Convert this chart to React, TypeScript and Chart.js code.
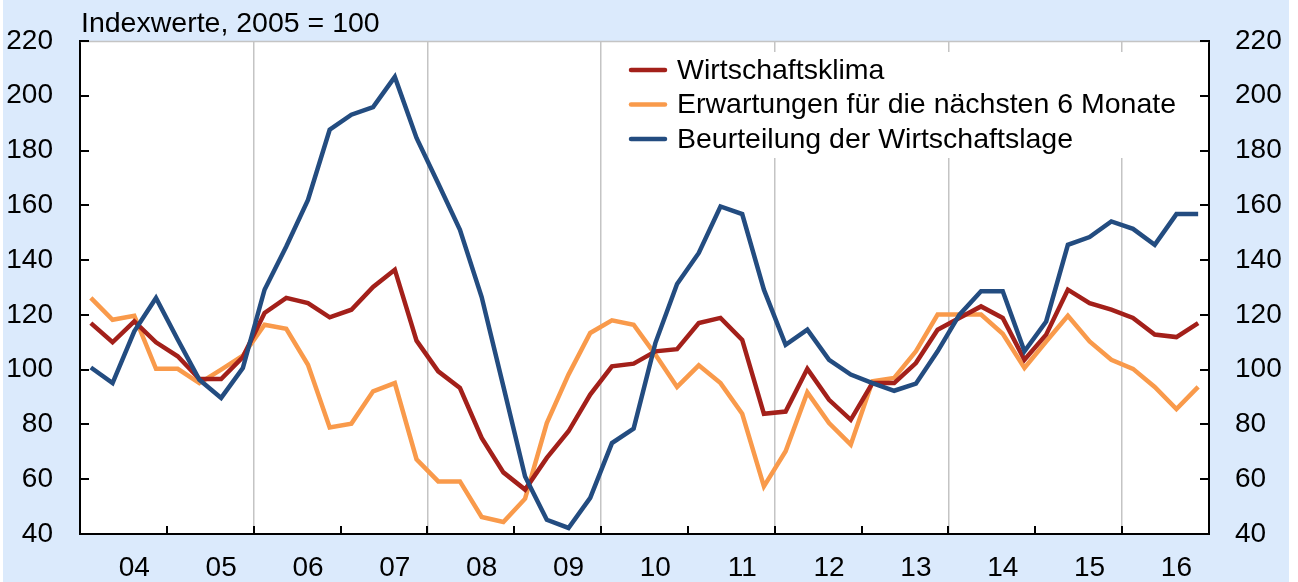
import React, { useEffect, useRef } from 'react';
import { Chart, registerables } from 'chart.js';

Chart.register(...registerables);

const yearLabels = ['04', '05', '06', '07', '08', '09', '10', '11', '12', '13', '14', '15', '16'];
const quarterNames = ['Q1', 'Q2', 'Q3', 'Q4'];
const quarters = yearLabels.flatMap((y) => quarterNames.map((q) => `20${y} ${q}`));

const titleText = 'Indexwerte, 2005 = 100';
const yTicks = { min: 40, max: 220, step: 20 };

const wirtschaftsklima = [
  117, 110, 117.6, 110, 104.9, 96.6, 96.6, 104.6, 120.7, 126.2, 124.3, 119.1, 121.9,
  130.2, 136.5, 110.6, 99.4, 93.3, 75.1, 62.5, 56.2, 67.8, 77.5, 90.9, 101.2, 102.2,
  106.7, 107.5, 117, 118.9, 110.9, 83.9, 84.7, 100.3, 89, 81.7, 95.1, 95.1, 102.4,
  114.6, 118.9, 123.1, 118.9, 103.6, 112.8, 129.2, 124.3, 121.9, 118.9, 112.8, 111.9, 117,
];

const erwartungen = [
  126.2, 118.2, 119.7, 100.3, 100.3, 95.1, 100, 105.1, 116.4, 114.9, 101.8, 78.9, 80.3,
  92.1, 95.1, 67.3, 59.2, 59.2, 46.2, 44.4, 52.9, 80.5, 98.2, 113.4, 118, 116.4,
  105.5, 93.7, 101.6, 95.1, 83.9, 57.4, 70.2, 91.7, 80.5, 72.6, 95.8, 97, 106.7,
  120.1, 120.1, 120.1, 113.1, 100.6, 110.3, 119.7, 110.3, 103.6, 100.3, 93.7, 85.6, 93.7,
];

const beurteilung = [
  100.8, 95.1, 114, 126.2, 111, 96.3, 89.7, 100.6, 129.2, 145, 162, 187.6, 193.1,
  195.9, 206.9, 184.6, 168, 151.1, 126.5, 93.9, 61, 45.2, 42.2, 53.2, 73.2, 78.5,
  109.7, 131.3, 142.6, 159.6, 156.8, 129.2, 109.1, 114.6, 103.6, 98.2, 95.1, 92.3, 94.9,
  106.7, 120, 128.6, 128.6, 106.7, 117.6, 145.6, 148.4, 154.1, 151.4, 145.6, 156.8, 156.8,
];

const seriesLabels = [
  'Wirtschaftsklima',
  'Erwartungen für die nächsten 6 Monate',
  'Beurteilung der Wirtschaftslage',
];
const seriesColors = ['#a3201a', '#f99a4b', '#234c80'];

const FONT = '"Liberation Sans", Arial, Helvetica, sans-serif';
const BG = '#dbeafc';

const framePlugin = {
  id: 'frame',
  beforeDraw(chart: any) {
    const { ctx, chartArea: a } = chart;
    ctx.save();
    ctx.fillStyle = '#ffffff';
    ctx.fillRect(a.left, a.top, a.right - a.left, a.bottom - a.top);
    ctx.restore();
  },
  beforeDatasetsDraw(chart: any) {
    const { ctx, chartArea: a } = chart;
    ctx.save();
    ctx.strokeStyle = '#c4c4c4';
    ctx.lineWidth = 1.5;
    ctx.beginPath();
    ctx.moveTo(a.left, a.top + 0.5);
    ctx.lineTo(a.right, a.top + 0.5);
    ctx.stroke();
    ctx.fillStyle = '#ffffff';
    ctx.fillRect(612, 52, 575, 106);
    ctx.restore();
  },
  afterDatasetsDraw(chart: any) {
    const { ctx, chartArea: a, scales } = chart;
    const xs = scales.x;
    const ys = scales.y;
    ctx.save();
    ctx.strokeStyle = '#000';
    ctx.lineWidth = 2;
    for (let i = 4; i < quarters.length; i += 4) {
      const px = Math.round((xs.getPixelForValue(i - 1) + xs.getPixelForValue(i)) / 2);
      ctx.beginPath();
      ctx.moveTo(px, a.bottom);
      ctx.lineTo(px, a.bottom - 8);
      ctx.stroke();
    }
    for (let v = yTicks.min; v <= yTicks.max; v += yTicks.step) {
      const py = Math.round(ys.getPixelForValue(v));
      ctx.beginPath();
      ctx.moveTo(a.left, py);
      ctx.lineTo(a.left + 9, py);
      ctx.moveTo(a.right, py);
      ctx.lineTo(a.right - 9, py);
      ctx.stroke();
    }
    ctx.fillStyle = '#000';
    ctx.font = `28.5px ${FONT}`;
    ctx.textBaseline = 'alphabetic';
    ctx.textAlign = 'left';
    ctx.fillText(titleText, 81, 32);
    const rows = [70, 104.5, 139];
    chart.data.datasets.forEach((ds: any, i: number) => {
      const y = rows[i];
      ctx.strokeStyle = ds.borderColor;
      ctx.lineWidth = 4.5;
      ctx.lineCap = 'round';
      ctx.beginPath();
      ctx.moveTo(631, y);
      ctx.lineTo(665, y);
      ctx.stroke();
      ctx.fillStyle = '#000';
      ctx.fillText(ds.label, 677, y + 8.5);
    });
    ctx.restore();
  },
};

export default function App() {
  const canvasRef = useRef<HTMLCanvasElement | null>(null);

  useEffect(() => {
    if (!canvasRef.current) return;
    Chart.defaults.font.family = FONT;
    Chart.defaults.font.size = 28;
    Chart.defaults.color = '#000';

    const chart = new Chart(canvasRef.current, {
      type: 'line',
      data: {
        labels: quarters,
        datasets: [
          {
            label: seriesLabels[0],
            data: wirtschaftsklima,
            borderColor: seriesColors[0],
            backgroundColor: seriesColors[0],
            borderWidth: 4.5,
            pointRadius: 0,
            tension: 0,
            order: 2,
          },
          {
            label: seriesLabels[1],
            data: erwartungen,
            borderColor: seriesColors[1],
            backgroundColor: seriesColors[1],
            borderWidth: 4.5,
            pointRadius: 0,
            tension: 0,
            order: 3,
          },
          {
            label: seriesLabels[2],
            data: beurteilung,
            borderColor: seriesColors[2],
            backgroundColor: seriesColors[2],
            borderWidth: 4.5,
            pointRadius: 0,
            tension: 0,
            order: 1,
          },
        ],
      },
      options: {
        responsive: false,
        animation: false,
        devicePixelRatio: 1,
        layout: { padding: { top: 41, left: 0, right: 0, bottom: 0 } },
        plugins: {
          legend: { display: false },
          title: { display: false },
          tooltip: { enabled: false },
        },
        scales: {
          x: {
            type: 'category',
            offset: true,
            grid: {
              offset: true,
              drawTicks: false,
              lineWidth: 1.5,
              color: (c: any) => (c.index > 0 && c.index % 8 === 0 && c.index < quarters.length ? '#c4c4c4' : 'rgba(0,0,0,0)'),
            },
            border: { display: true, color: '#000', width: 2 },
            ticks: {
              autoSkip: false,
              maxRotation: 0,
              minRotation: 0,
              padding: 17,
              font: { size: 28 },
              callback: (_v: any, index: number) => (index % 4 === 2 ? yearLabels[Math.floor(index / 4)] : ''),
            },
            afterFit: (s: any) => {
              s.height = 48;
              s.paddingLeft = 0;
              s.paddingRight = 0;
            },
          },
          y: {
            position: 'left',
            min: yTicks.min,
            max: yTicks.max,
            grid: { drawOnChartArea: false, drawTicks: false },
            border: { display: true, color: '#000', width: 2 },
            ticks: { stepSize: yTicks.step, padding: 27, font: { size: 28 } },
            afterFit: (s: any) => {
              s.width = 80;
              s.paddingTop = 0;
              s.paddingBottom = 0;
            },
          },
          y2: {
            position: 'right',
            min: yTicks.min,
            max: yTicks.max,
            grid: { drawOnChartArea: false, drawTicks: false },
            border: { display: true, color: '#000', width: 2 },
            ticks: { stepSize: yTicks.step, padding: 26, font: { size: 28 } },
            afterFit: (s: any) => {
              s.width = 89;
              s.paddingTop = 0;
              s.paddingBottom = 0;
            },
          },
        },
      },
      plugins: [framePlugin],
    });

    return () => chart.destroy();
  }, []);

  return (
    <div style={{ position: 'fixed', left: 0, top: 0, width: 1298, height: 582, background: '#fff' }}>
      <div style={{ position: 'absolute', left: 3, top: 0, width: 1286, height: 582, background: BG }} />
      <canvas
        ref={canvasRef}
        width={1298}
        height={582}
        style={{ position: 'absolute', left: 0, top: 0, width: 1298, height: 582 }}
      />
    </div>
  );
}
